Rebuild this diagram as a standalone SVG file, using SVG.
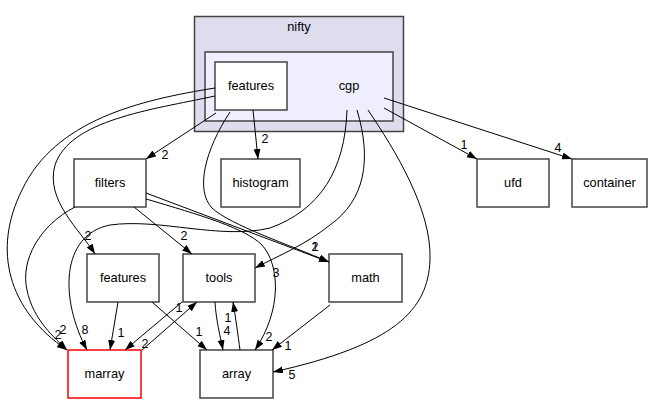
<svg xmlns="http://www.w3.org/2000/svg" width="653" height="404" viewBox="0 0 653 404">
<defs>
<marker id="ah" markerUnits="userSpaceOnUse" markerWidth="11" markerHeight="8" refX="10" refY="3.5" orient="auto">
<path d="M0,0 L10,3.5 L0,7 z" fill="#000"/>
</marker>
<style>
text{font-family:"Liberation Sans",Arial,sans-serif;font-size:12.8px;fill:#000;text-anchor:middle}
.n{fill:#fff;stroke:#444;stroke-width:1.5}
.e{fill:none;stroke:#000;stroke-width:1;marker-end:url(#ah)}
.l{font-size:12.5px}
</style>
</defs>
<rect width="653" height="404" fill="#fff"/>
<g id="cluster_nifty">
<rect x="194.5" y="16.5" width="209" height="115" fill="#ddddee" stroke="#444" stroke-width="1.5"/>
<text x="299" y="31">nifty</text>
</g>
<g id="cluster_cgp">
<rect x="205" y="52" width="188" height="69" fill="#eeeeff" stroke="#444" stroke-width="1.5"/>
<text x="349" y="90">cgp</text>
</g>
<g id="node_features_inner"><rect class="n" x="215" y="62" width="72" height="48"/><text x="251" y="90">features</text></g>
<g id="node_filters"><rect class="n" x="74" y="159" width="72" height="48"/><text x="110" y="187">filters</text></g>
<g id="node_histogram"><rect class="n" x="221" y="159" width="79" height="48"/><text x="260.5" y="187">histogram</text></g>
<g id="node_ufd"><rect class="n" x="477" y="159" width="72" height="48"/><text x="513" y="187">ufd</text></g>
<g id="node_container"><rect class="n" x="572" y="159" width="75" height="48"/><text x="609.5" y="187">container</text></g>
<g id="node_features"><rect class="n" x="87" y="254" width="72" height="48"/><text x="123" y="282">features</text></g>
<g id="node_tools"><rect class="n" x="183" y="254" width="72" height="48"/><text x="219" y="282">tools</text></g>
<g id="node_math"><rect class="n" x="329" y="254" width="73" height="48"/><text x="365.5" y="282">math</text></g>
<g id="node_marray"><rect x="68" y="350" width="73" height="48" fill="#fff" stroke="#ff0000" stroke-width="1.5"/><text x="104.5" y="378">marray</text></g>
<g id="node_array"><rect class="n" x="200" y="350" width="73" height="48"/><text x="236.5" y="378">array</text></g>
<g id="edges">
<path class="e" d="M216,113 L146,159"/>
<path class="e" d="M253,110 L258,159"/>
<path class="e" d="M215,88 C140,100 55,120 22,190 C-8,250 8,310 67,350"/>
<path class="e" d="M215,96 C150,110 70,120 55,165 C45,200 80,230 95,254"/>
<path class="e" d="M230,112 C205,150 195,190 212,208 C230,225 290,245 329,262"/>
<path class="e" d="M146,193 L329,262"/>
<path class="e" d="M146,199 C200,215 245,228 262,245 C280,265 282,310 255,350"/>
<path class="e" d="M134,207 L192,254"/>
<path class="e" d="M75,207 C40,225 20,260 27,290 C33,320 55,338 67,350"/>
<path class="e" d="M347,110 C345,170 320,210 270,228 C220,240 160,218 110,225 C60,235 60,300 87,350"/>
<path class="e" d="M357,110 C372,160 365,200 330,225 C305,245 280,255 255,268"/>
<path class="e" d="M368,110 C395,150 432,210 430,260 C428,310 395,345 273,372"/>
<path class="e" d="M384,108 L477,159"/>
<path class="e" d="M384,98 L572,159"/>
<path class="e" d="M118,302 L110,350"/>
<path class="e" d="M152,302 L207,350"/>
<path class="e" d="M182,302 L125,350"/>
<path class="e" d="M142,350 L197,302"/>
<path class="e" d="M215,302 C216,320 220,335 223,350"/>
<path class="e" d="M240,350 C238,335 236,320 233,302"/>
<path class="e" d="M330,305 L272,350"/>
<text class="l" x="165" y="159">2</text>
<text class="l" x="265" y="143">2</text>
<text class="l" x="58" y="339">2</text>
<text class="l" x="63" y="334">2</text>
<text class="l" x="88" y="240">2</text>
<text class="l" x="85" y="334">8</text>
<text class="l" x="121" y="337">1</text>
<text class="l" x="145" y="348">2</text>
<text class="l" x="179" y="312">1</text>
<text class="l" x="184" y="240">2</text>
<text class="l" x="199" y="336">1</text>
<text class="l" x="227" y="335">4</text>
<text class="l" x="228" y="322">1</text>
<text class="l" x="269" y="341">2</text>
<text class="l" x="288" y="350">1</text>
<text class="l" x="292" y="379">5</text>
<text class="l" x="276" y="277">3</text>
<text class="l" x="315" y="251">2</text>
<text class="l" x="315" y="251">1</text>
<text class="l" x="464" y="149">1</text>
<text class="l" x="558" y="152">4</text>
</g>
</svg>
